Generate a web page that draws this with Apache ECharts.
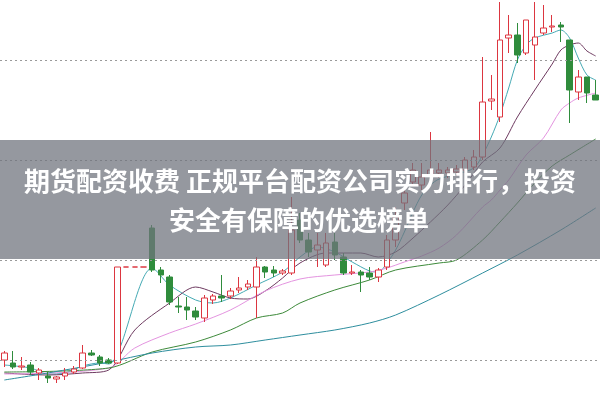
<!DOCTYPE html>
<html>
<head>
<meta charset="utf-8">
<script src="https://cdn.jsdelivr.net/npm/echarts@6/dist/echarts.min.js"></script>
<style>
html,body{margin:0;padding:0;background:#fff;}
#chart{width:600px;height:400px;}
</style>
</head>
<body>
<div id="chart"></div>
<script>
// candles: [open, close, low, high]
const candles = [
  [4.00,4.07,3.93,4.09],[3.97,3.93,3.91,4.09],[3.93,3.94,3.90,4.03],[3.95,3.88,3.85,3.98],
  [3.87,3.90,3.80,3.92],[3.84,3.82,3.77,3.88],[3.81,3.83,3.77,3.84],[3.84,3.87,3.80,3.92],
  [3.88,3.91,3.86,3.94],[3.92,4.07,3.91,4.15],[4.07,4.05,4.04,4.10],[4.03,3.97,3.94,4.05],
  [4.00,3.97,3.96,4.02],[3.97,4.93,3.96,4.93],[4.93,4.93,4.93,4.93],[4.93,4.93,4.93,4.93],
  [4.93,4.93,4.93,4.93],[5.32,4.90,4.88,5.35],[4.90,4.85,4.77,4.93],[4.83,4.58,4.55,4.85],
  [4.54,4.53,4.47,4.63],[4.53,4.50,4.40,4.63],[4.49,4.43,4.40,4.53],[4.42,4.62,4.38,4.65],
  [4.60,4.64,4.56,4.66],[4.64,4.62,4.58,4.85],[4.64,4.69,4.61,4.72],[4.70,4.72,4.67,4.83],
  [4.73,4.76,4.70,4.80],[4.73,4.93,4.42,5.03],[4.93,4.88,4.82,4.94],[4.90,4.87,4.83,4.94],
  [4.87,4.89,4.85,4.91],[4.87,5.30,4.85,5.63],[5.40,5.20,5.17,5.47],[5.20,5.08,5.03,5.27],
  [5.10,5.15,4.93,5.27],[4.95,5.17,4.93,5.27],[5.18,5.05,5.00,5.27],[5.03,4.87,4.85,5.07],
  [4.87,4.88,4.85,4.95],[4.88,4.85,4.68,4.90],[4.87,4.83,4.80,4.93],[4.83,4.90,4.78,4.92],
  [4.93,5.20,4.90,5.25],[5.20,5.43,5.13,5.53],[5.57,5.67,5.50,5.73],[5.78,5.90,5.75,5.97],
  [5.75,5.83,5.70,5.97],[5.85,5.90,5.80,6.28],[5.87,5.90,5.82,5.97],[5.87,5.90,5.82,5.93],
  [5.88,5.91,5.84,5.95],[5.90,6.00,5.87,6.03],[5.93,6.03,5.90,6.10],[6.03,6.58,6.00,7.03],
  [6.59,6.61,6.50,6.85],[6.43,7.20,6.38,7.58],[7.22,7.25,7.07,7.45],[7.25,7.05,6.97,7.37],
  [7.07,7.40,7.05,7.40],[7.15,7.23,6.80,7.58],[7.27,7.32,7.25,7.55],[7.33,7.34,7.28,7.45],
  [7.35,7.33,7.18,7.38],[7.20,6.70,6.37,7.20],[6.68,6.83,6.60,6.90],[6.83,6.67,6.57,6.83],
  [6.65,6.60,6.60,6.80]
];
const categories = candles.map((_, i) => String(i + 1));

// moving averages read as keypoints [candle index, value]
const ma5 = [[0,3.95],[3,3.92],[5,3.86],[7,3.87],[9,3.94],[11,3.97],[12,3.96],[17,4.92],[19,4.75],[22,4.60],[24,4.57],[26,4.62],[29,4.75],[32,4.88],[34,5.03],[36,5.13],[38,5.08],[40,4.98],[42,4.89],[43,4.88],[44,4.97],[45,5.10],[46,5.28],[47,5.48],[48,5.65],[49,5.75],[50,5.81],[52,5.86],[54,5.92],[55,6.05],[56,6.23],[57,6.45],[58,6.72],[59,7.00],[60,7.15],[61,7.22],[63,7.27],[64,7.30],[65,7.22],[66,7.02],[67,6.85],[68,6.80]];
const ma10 = [[0,3.87],[5,3.85],[9,3.87],[12,3.90],[15,4.30],[19,4.57],[22,4.73],[24,4.68],[26,4.62],[28,4.61],[30,4.69],[32,4.82],[34,4.97],[37,5.07],[41,5.07],[43,5.03],[45,5.08],[47,5.22],[49,5.38],[51,5.55],[53,5.75],[55,5.98],[57,6.12],[59,6.43],[61,6.70],[63,6.96],[64,7.10],[65,7.15],[66,7.17],[67,7.09],[68,7.04]];
const ma20 = [[0,3.86],[12,3.92],[15,4.12],[19,4.27],[22,4.36],[26,4.50],[30,4.69],[34,4.81],[38,4.85],[42,4.88],[44,4.92],[46,4.98],[48,5.04],[50,5.12],[52,5.25],[55,5.53],[56,5.60],[57,5.70],[58,5.80],[60,6.05],[62,6.22],[64,6.50],[65,6.57],[66,6.62],[68,6.67]];
const ma30 = [[0,3.88],[12,3.92],[17,4.08],[22,4.18],[26,4.30],[29,4.42],[32,4.47],[34,4.57],[38,4.70],[42,4.80],[45,4.90],[50,4.97],[52,5.00],[55,5.20],[57,5.38],[59,5.57],[61,5.77],[63,5.94],[65,6.05],[68,6.21]];
const ma60 = [[0,3.80],[5,3.87],[12,3.98],[17,4.07],[22,4.13],[26,4.15],[30,4.20],[34,4.25],[38,4.30],[42,4.37],[45,4.45],[50,4.65],[55,4.87],[59,5.05],[64,5.30],[68,5.52]];
const gridLevels = [4, 5, 6, 7];

const titleLine1 = '期货配资收费 正规平台配资公司实力排行，投资';
const titleLine2 = '安全有保障的优选榜单';

function maSeries(name, data, color) {
  return {
    name, type: 'line', data, symbol: 'none', smooth: 0.3,
    lineStyle: { color, width: 1 }, z: 3, silent: true
  };
}

const chart = echarts.init(document.getElementById('chart'), null, { renderer: 'canvas' });
chart.setOption({
  animation: false,
  backgroundColor: '#ffffff',
  grid: { left: 0, right: 0, top: 0, bottom: 0 },
  xAxis: {
    type: 'category', data: categories, boundaryGap: true, show: false
  },
  yAxis: {
    type: 'value', min: 3.6, max: 7.6, show: false, splitLine: { show: false }
  },
  series: [
    {
      name: 'grid', type: 'line', data: [], z: 1, silent: true,
      markLine: {
        silent: true, symbol: 'none', label: { show: false },
        lineStyle: { type: [2, 3], color: '#9a9a9a', width: 1 },
        data: gridLevels.map(v => ({ yAxis: v }))
      }
    },
    {
      name: 'K', type: 'candlestick', data: candles, barWidth: 6, z: 4,
      itemStyle: {
        color: '#ffffff', color0: '#2f8c3c',
        borderColor: '#dc3640', borderColor0: '#2f8c3c', borderWidth: 1
      }
    },
    maSeries('MA5', ma5, '#45aab4'),
    maSeries('MA10', ma10, '#6e3a60'),
    maSeries('MA20', ma20, '#e494e0'),
    maSeries('MA30', ma30, '#3d8a3a'),
    maSeries('MA60', ma60, '#2e8e9e')
  ],
  graphic: [
    {
      type: 'rect', left: 0, top: 140, z: 100,
      shape: { width: 600, height: 119 },
      style: { fill: 'rgba(112,116,126,0.74)' }
    },
    {
      type: 'text', x: 300, y: 181, z: 101,
      style: {
        text: titleLine1, fill: '#ffffff', align: 'center', verticalAlign: 'middle',
        font: 'bold 26px "Noto Sans CJK SC"'
      }
    },
    {
      type: 'text', x: 299, y: 220, z: 101,
      style: {
        text: titleLine2, fill: '#ffffff', align: 'center', verticalAlign: 'middle',
        font: 'bold 26px "Noto Sans CJK SC"'
      }
    }
  ]
});
</script>
</body>
</html>
